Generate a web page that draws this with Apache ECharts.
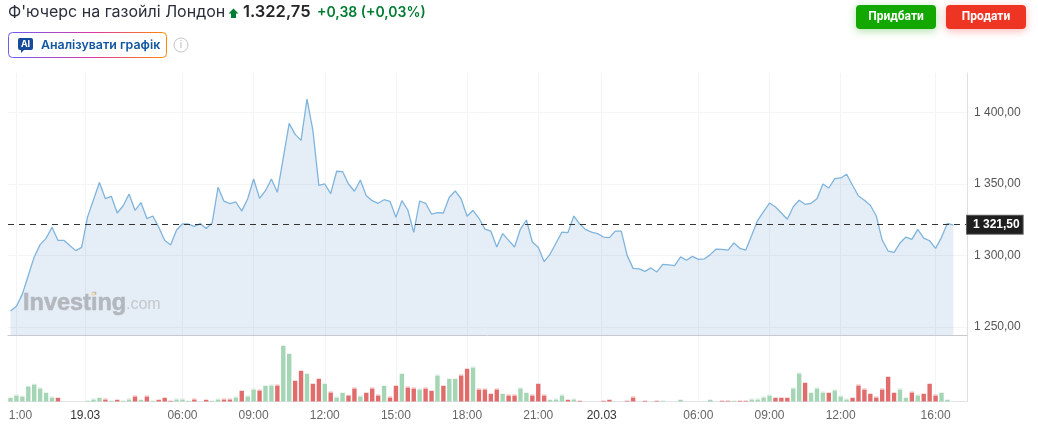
<!DOCTYPE html>
<html><head><meta charset="utf-8">
<style>html,body{margin:0;padding:0;background:#fff}#c{width:1038px;height:425px}</style>
<script src="https://cdn.jsdelivr.net/npm/echarts@6/dist/echarts.min.js"></script>
</head><body><div id="c"></div>
<script>
const priceValues = [
1261.2,1264.5,1273,1286,1299,1307.6,1312,1319.7,1310.6,1310.6,
1307,1303.4,1305.7,1327,1339,1351,1339.7,1341.4,1329.7,1334.8,
1343,1331.6,1337,1325.8,1327.6,1319.7,1310.6,1307.3,1317.8,1322,
1322,1320.4,1322.3,1318.8,1322.7,1347.7,1338,1336.2,1337.4,1331,
1339.7,1353.5,1340,1345.3,1353.5,1344.2,1368.2,1392.4,1384.7,1380.5,
1409.4,1387.3,1349,1350,1343.2,1358.9,1358.7,1350,1344.9,1352.8,
1341.8,1338.3,1336.5,1339,1337.9,1326.7,1338.3,1331.8,1316.2,1338.1,
1336.5,1329,1330,1329.7,1340.7,1345.1,1339.5,1327.4,1331.6,1326,
1318.5,1317.1,1305.9,1315.3,1310.6,1305.9,1318.5,1324.8,1309.4,1305.7,
1295.7,1301,1308.7,1316.4,1316,1327.6,1322,1318.1,1316.4,1315.3,
1312.9,1312.5,1317.1,1317.1,1299.9,1291,1290.6,1288.9,1291.3,1288.5,
1293.8,1293.4,1292.9,1299,1296.7,1299.4,1297.3,1297.6,1300.6,1304.5,
1304.3,1303.8,1308.7,1305,1303.8,1314.1,1324.6,1330.7,1336.7,1333.9,
1329.7,1325.3,1334.1,1338.6,1335.8,1336.5,1339.7,1350,1347.2,1353.7,
1354.2,1356.8,1349.1,1341.6,1338.6,1335.1,1327.6,1310.8,1303.1,1302.2,
1308.7,1312.9,1311.3,1318.3,1312.2,1310.3,1305,1312.7,1322.5,1321.3];
const volumes = [
12,21,17,47,53,42,27,15,12,0,0,0,0,
3,9,12,9,3,6,3,9,
18,6,18,3,6,12,3,9,9,3,
9,0,6,3,9,9,9,15,33,18,
39,36,48,51,51,168,144,63,93,84,
54,69,54,30,15,27,
20,42,18,27,42,21,48,15,48,84,
45,42,39,42,33,81,48,69,69,81,
99,105,39,39,24,39,24,21,21,42,
27,21,54,21,6,9,21,6,9,3,
0,0,0,3,6,0,0,3,15,0,
3,0,3,3,0,0,6,0,0,0,
0,6,0,3,3,3,3,3,9,9,
15,21,12,12,12,42,87,57,27,42,
30,27,36,18,9,12,51,39,24,15,
39,75,27,39,12,30,21,24,54,21,
27,6,0];
const volumeUp = [
1,1,1,1,1,1,1,1,0,0,0,0,0,
1,1,1,0,1,0,1,1,
0,1,0,1,0,0,0,1,1,1,
0,0,0,1,1,0,0,1,0,1,
1,0,1,1,0,1,1,0,0,1,
0,0,1,0,1,1,
0,0,1,0,0,0,1,0,0,1,
0,0,1,0,0,1,0,1,1,0,
0,1,0,0,0,0,1,0,0,1,
1,0,0,0,1,1,1,0,1,0,
0,0,0,0,0,0,0,0,0,0,
0,0,0,1,0,0,1,0,0,0,
0,1,0,0,0,1,0,0,1,1,
1,1,0,0,0,1,1,0,1,1,
1,0,1,1,1,0,0,0,0,0,
0,0,0,1,1,0,1,0,0,0,
1,1,0];
const tickPositions = [1,12.6,29,41,53,65,77,89,99.7,116,128,140,156];
const tickLabels = ['1:00','19.03','06:00','09:00','12:00','15:00','18:00','21:00','20.03','06:00','09:00','12:00','16:00'];
const priceTicks = [1250,1300,1350,1400];
const lastPrice = 1321.5;

const G = echarts.graphic;
const xMin = -0.42, xMax = 161.3;
const labelMap = {};
tickPositions.forEach((p,i)=>labelMap[p]=tickLabels[i]);
const fmtPrice = v => {
  const s = v.toFixed(2).replace('.',',');
  return s.replace(/^(\d)(\d{3})/,'$1 $2');
};
const gridLine = {show:true,lineStyle:{color:'#f3f4f6',width:1}};
const UI = 'Inter, "Noto Sans", sans-serif';
const AX = '"Liberation Sans", Arial, sans-serif';

const chart = echarts.init(document.getElementById('c'),null,{renderer:'canvas'});
chart.setOption({
  animation:false,
  backgroundColor:'#fff',
  grid:[
    {left:8,right:71,top:73,height:262,containLabel:false},
    {left:8,right:71,top:335,height:66.5,containLabel:false}
  ],
  xAxis:[
    {gridIndex:0,type:'value',min:xMin,max:xMax,
     axisLine:{show:true,onZero:false,lineStyle:{color:'#c8c9cc'}},
     axisTick:{show:false,customValues:tickPositions},
     axisLabel:{show:false,customValues:tickPositions},
     splitLine:gridLine},
    {gridIndex:1,type:'value',min:xMin,max:xMax,
     axisLine:{show:true,onZero:false,lineStyle:{color:'#e3e3ec'}},
     axisTick:{show:false,customValues:tickPositions},
     axisLabel:{show:true,customValues:tickPositions,margin:8,fontFamily:AX,fontSize:12,color:'#666',
       hideOverlap:false,showMinLabel:true,showMaxLabel:true,
       formatter:v=>{
         const t=labelMap[v];
         if(t==='1:00') return '{first|'+t+'}';
         return /\.\d\d$/.test(t)?'{date|'+t+'}':t;
       },
       rich:{date:{color:'#333',fontFamily:AX,fontSize:12},first:{color:'#666',fontFamily:AX,fontSize:12,padding:[0,0,0,8]}}},
     splitLine:gridLine}
  ],
  yAxis:[
    {gridIndex:0,type:'value',position:'right',min:1244.4,max:1427.6,
     axisLine:{show:true,onZero:false,lineStyle:{color:'#dfdfe2'}},
     axisTick:{show:false,customValues:priceTicks},
     axisLabel:{show:true,customValues:priceTicks,margin:7,fontFamily:AX,fontSize:12,color:'#555',formatter:v=>fmtPrice(v)},
     splitLine:gridLine},
    {gridIndex:1,type:'value',position:'right',min:0,max:199.5,
     axisLine:{show:true,onZero:false,lineStyle:{color:'#dfdfe2'}},
     axisTick:{show:false},axisLabel:{show:false},splitLine:{show:false}}
  ],
  series:[
    {type:'line',xAxisIndex:0,yAxisIndex:0,symbol:'none',smooth:false,
     data:priceValues.map((v,i)=>[i,v]),
     lineStyle:{color:'#7fb4dd',width:1.3},
     areaStyle:{color:'rgba(30,105,175,0.115)',origin:'start',opacity:1},
     markLine:{silent:true,symbol:'none',
       lineStyle:{color:'#333',type:[6,5],width:1},
       data:[{yAxis:lastPrice}],
       label:{show:true,position:'end',distance:0,formatter:()=>fmtPrice(lastPrice),
         color:'#fff',backgroundColor:'#1e1e1e',borderColor:'#666',borderWidth:1,
         padding:[3,3,3,6],fontFamily:AX,fontSize:12,fontWeight:'bold'}}},
    {type:'bar',xAxisIndex:1,yAxisIndex:1,barWidth:4.4,
     data:volumes.map((v,i)=>{
       const base = volumeUp[i]?'#a4d5b4':'#e06c6c';
       const cap = volumeUp[i]?'#d4ebdb':'#f2b6b6';
       const stop = v>3 ? 3/v : 1;
       return {value:[i,v],itemStyle:{color:new G.LinearGradient(0,0,0,1,[
         {offset:0,color:cap},{offset:stop,color:cap},{offset:stop,color:base},{offset:1,color:base}])}};
     })}
  ],
  graphic:[
    {type:'text',x:8,y:4,z:10,style:{text:"Ф'ючерс на газойлі Лондон",font:'16px '+UI,fill:'#2a2e39'}},
    {type:'polygon',z:10,shape:{points:[[233.5,8.5],[238.5,13.5],[236,13.5],[236,18],[231,18],[231,13.5],[228.5,13.5]]},style:{fill:'#007c32'}},
    {type:'text',x:243,y:3.5,z:10,style:{text:'1.322,75',font:'600 16.5px '+UI,fill:'#232526'}},
    {type:'text',x:317,y:6,z:10,style:{text:'+0,38 (+0,03%)',font:'600 14px '+UI,fill:'#007c32'}},

    {type:'rect',z:10,shape:{x:856,y:5,width:80,height:24,r:4},style:{fill:'#12a800',shadowBlur:8,shadowColor:'rgba(18,168,0,0.35)',shadowOffsetY:2}},
    {type:'text',z:11,x:896,y:17,style:{text:'Придбати',font:'bold 12px Roboto, sans-serif',fill:'#fff',align:'center',verticalAlign:'middle'}},
    {type:'rect',z:10,shape:{x:946,y:5,width:80,height:24,r:4},style:{fill:'#ee3524',shadowBlur:8,shadowColor:'rgba(238,53,36,0.35)',shadowOffsetY:2}},
    {type:'text',z:11,x:986,y:17,style:{text:'Продати',font:'bold 12px Roboto, sans-serif',fill:'#fff',align:'center',verticalAlign:'middle'}},

    {type:'rect',z:10,shape:{x:8.5,y:32.5,width:158,height:25,r:4},
     style:{fill:'#fff',lineWidth:1,stroke:new G.LinearGradient(0,0,1,0,[{offset:0,color:'#6a5cf2'},{offset:0.55,color:'#d93aa0'},{offset:1,color:'#ff8a00'}])}},
    {type:'rect',z:11,shape:{x:18,y:38,width:15,height:12,r:2},style:{fill:'#174a9c'}},
    {type:'polygon',z:11,shape:{points:[[21,49],[25,49],[21,53]]},style:{fill:'#174a9c'}},
    {type:'text',z:12,x:25.5,y:44,style:{text:'AI',font:'bold 9px '+UI,fill:'#fff',align:'center',verticalAlign:'middle'}},
    {type:'text',z:11,x:41,y:45,style:{text:'Аналізувати графік',font:'600 12.4px '+UI,fill:'#1256a0',verticalAlign:'middle'}},
    {type:'circle',z:10,shape:{cx:181,cy:45,r:7},style:{fill:'#fff',stroke:'#c5c5c5',lineWidth:1}},
    {type:'text',z:11,x:181,y:45,style:{text:'i',font:'10px '+UI,fill:'#b5b5b5',align:'center',verticalAlign:'middle'}},

    {type:'text',z:5,x:23,y:292,style:{text:'Investing',font:'bold 23.5px "Liberation Sans", sans-serif',fill:'#b4b8be',stroke:'#b4b8be',lineWidth:0.6}},
    {type:'text',z:5,x:126,y:297,style:{text:'.com',font:'16px "Liberation Sans", sans-serif',fill:'#c4c8cd'}},
    {type:'rect',z:6,shape:{x:91,y:292.5,width:4,height:3},style:{fill:'#eedcb4'}}
  ]
});
</script></body></html>
